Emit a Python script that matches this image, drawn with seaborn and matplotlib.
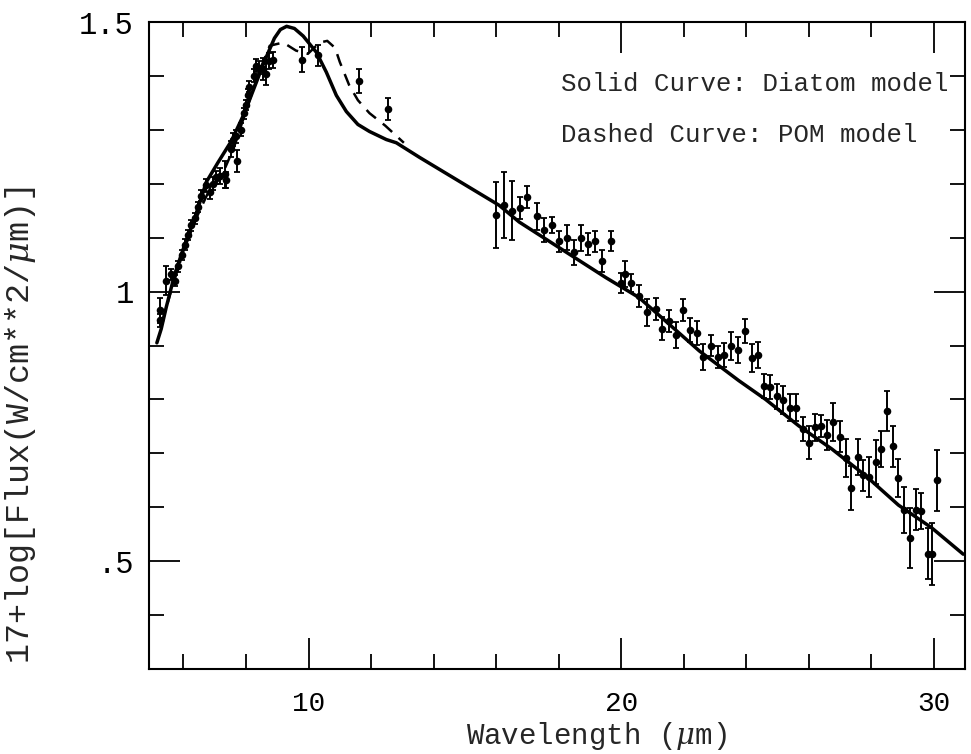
import numpy as np
import pandas as pd
import matplotlib
matplotlib.use("Agg")
import matplotlib.pyplot as plt
import seaborn as sns

# measured spectrum (wavelength in micron, 17+log flux, error)
wl = [5.24, 5.26, 5.45, 5.61, 5.72, 5.83, 5.94, 6.04, 6.15, 6.25, 6.36, 6.47, 6.57,
      6.73, 6.84, 6.94, 7.05, 7.16, 7.32, 7.37, 7.53, 7.58, 7.69, 7.72, 7.85, 7.95,
      8.01, 8.06, 8.11, 8.27, 8.33, 8.43, 8.54, 8.64, 8.75, 8.87, 9.80, 10.30, 11.61,
      12.54,
      16.0, 16.26, 16.5, 16.77, 17.0, 17.3, 17.54, 17.79, 18.02, 18.26, 18.48, 18.71,
      18.95, 19.17, 19.4, 19.69, 19.99, 20.12, 20.3, 20.57, 20.84, 21.1, 21.32, 21.53,
      21.76, 21.98, 22.19, 22.41, 22.61, 22.86, 23.1, 23.29, 23.5, 23.74, 23.96, 24.17,
      24.38, 24.56, 24.75, 24.99, 25.18, 25.39, 25.59, 25.81, 26.0, 26.19, 26.4, 26.58,
      26.79, 26.99, 27.2, 27.36, 27.57, 27.73, 27.94, 28.15, 28.32, 28.5, 28.69, 28.87,
      29.05, 29.24, 29.42, 29.59, 29.8, 29.95, 30.11]
flux = [0.965, 0.947, 1.02, 1.032, 1.02, 1.047, 1.068, 1.087, 1.105, 1.123, 1.136, 1.157, 1.178,
        1.197, 1.184, 1.20, 1.212, 1.215, 1.218, 1.207, 1.264, 1.282, 1.288, 1.242, 1.30, 1.331,
        1.346, 1.365, 1.38, 1.40, 1.419, 1.415, 1.413, 1.404, 1.428, 1.429, 1.43, 1.438, 1.39,
        1.339,
        1.142, 1.16, 1.15, 1.155, 1.175, 1.14, 1.114, 1.123, 1.093, 1.10, 1.073, 1.099,
        1.088, 1.093, 1.057, 1.094, 1.016, 1.033, 1.016, 0.992, 0.962, 0.968, 0.931, 0.946,
        0.919, 0.966, 0.929, 0.923, 0.879, 0.90, 0.879, 0.882, 0.90, 0.891, 0.927, 0.876,
        0.882, 0.825, 0.823, 0.806, 0.799, 0.785, 0.785, 0.745, 0.72, 0.748, 0.751, 0.734,
        0.758, 0.731, 0.691, 0.636, 0.693, 0.659, 0.656, 0.684, 0.708, 0.778, 0.713, 0.654,
        0.595, 0.543, 0.595, 0.593, 0.514, 0.513, 0.65]
err = [0.024, 0.012, 0.027, 0.01, 0.01, 0.01, 0.01, 0.01, 0.01, 0.01, 0.01, 0.01, 0.01,
       0.012, 0.012, 0.012, 0.012, 0.015, 0.025, 0.015, 0.015, 0.012, 0.012, 0.021, 0.012, 0.01,
       0.01, 0.01, 0.01, 0.012, 0.012, 0.012, 0.02, 0.02, 0.015, 0.015, 0.023, 0.02, 0.022,
       0.021,
       0.061, 0.061, 0.055, 0.02, 0.02, 0.025, 0.022, 0.015, 0.02, 0.023, 0.023, 0.024,
       0.02, 0.02, 0.02, 0.018, 0.018, 0.024, 0.017, 0.02, 0.025, 0.02, 0.021, 0.02,
       0.024, 0.02, 0.022, 0.022, 0.024, 0.02, 0.02, 0.022, 0.026, 0.024, 0.022, 0.026,
       0.024, 0.023, 0.022, 0.023, 0.026, 0.025, 0.025, 0.023, 0.03, 0.025, 0.021, 0.027,
       0.035, 0.029, 0.035, 0.041, 0.034, 0.029, 0.037, 0.041, 0.034, 0.037, 0.038, 0.035,
       0.043, 0.056, 0.038, 0.034, 0.047, 0.057, 0.056]

# model curves
diatom_x = [5.15, 5.29, 5.45, 5.72, 6.04, 6.36, 6.73, 7.10, 7.53, 7.95, 8.27, 8.59, 8.91,
            9.10, 9.30, 9.55, 9.83, 10.25, 10.57, 10.89, 11.21, 11.58, 11.95, 12.49, 12.81,
            13.55, 16.1, 16.74, 19.51, 20.57, 22.5, 23.76, 24.62, 25.68, 26.74, 27.81, 28.87,
            29.93, 30.94]
diatom_y = [0.905, 0.931, 0.971, 1.032, 1.087, 1.136, 1.203, 1.239, 1.279, 1.331, 1.379, 1.427, 1.470,
            1.486, 1.492, 1.488, 1.474, 1.444, 1.407, 1.364, 1.334, 1.310, 1.297, 1.282, 1.276,
            1.249, 1.160, 1.129, 1.026, 0.989, 0.89, 0.835, 0.800, 0.751, 0.708, 0.659, 0.604,
            0.562, 0.513]

pom_x = [5.3, 5.6, 6.0, 6.4, 6.8, 7.2, 7.6, 8.0, 8.4, 8.76, 9.19, 9.6, 9.98, 10.36, 10.6,
         10.85, 11.0, 11.3, 11.58, 11.95, 12.45, 13.05]
pom_y = [0.94, 1.0, 1.075, 1.135, 1.185, 1.212, 1.265, 1.335, 1.405, 1.456, 1.462, 1.447, 1.441,
         1.462, 1.465, 1.452, 1.426, 1.383, 1.355, 1.331, 1.308, 1.276]

sns.set_theme(style="ticks")
plt.rcParams['font.family'] = ['Liberation Mono', 'DejaVu Sans']
plt.rcParams['mathtext.fontset'] = 'dejavuserif'

fig = plt.figure(figsize=(9.71, 7.54), dpi=100)
ax = fig.add_axes([0.1535, 0.1127, 0.8404, 0.8581])

obs = pd.DataFrame({'wl': wl, 'flux': flux, 'err': err})
diatom = pd.DataFrame({'wl': diatom_x, 'flux': diatom_y})
pom = pd.DataFrame({'wl': pom_x, 'flux': pom_y})

sns.lineplot(data=diatom, x='wl', y='flux', ax=ax, color='black', lw=2.5, sort=False)
sns.lineplot(data=pom, x='wl', y='flux', ax=ax, color='black', lw=1.8, sort=False,
             linestyle=(0, (5, 3.5)))
ax.errorbar(obs['wl'], obs['flux'], yerr=obs['err'], fmt='none', ecolor='black',
            elinewidth=1.4, capsize=2.5, capthick=1.3)
sns.scatterplot(data=obs, x='wl', y='flux', ax=ax, color='black', s=30, edgecolor='black',
                linewidth=0, zorder=3)

ax.set_xlim(4.9, 31.0)
ax.set_ylim(0.3, 1.5)
ax.set_xticks([10, 20, 30])
ax.set_xticklabels(['10', '20', '30'])
ax.set_xticks(np.arange(6, 31, 2), minor=True)
ax.set_yticks([0.5, 1.0, 1.5])
ax.set_yticklabels(['.5', '1', '1.5'])
ax.set_yticks(np.arange(0.4, 1.5, 0.1), minor=True)
ax.tick_params(which='both', direction='in', top=True, right=True, colors='black', width=1.3)
ax.tick_params(which='major', length=22)
ax.tick_params(which='minor', length=11)
ax.tick_params(axis='x', which='major', pad=16, labelsize=20)
ax.tick_params(axis='y', which='major', pad=11, labelsize=22)
for s in ax.spines.values():
    s.set_linewidth(1.5)
    s.set_color('black')

ax.set_xlabel(r'Wavelength ($\mu$m)', fontsize=21, va='bottom')
ax.set_ylabel(r'17+log[Flux(W/cm**2/$\mu$m)]', fontsize=24)
ax.xaxis.set_label_coords(0.548, -0.1285)
ax.yaxis.set_label_coords(-0.136, 0.377)

ax.text(18.08, 1.385, 'Solid Curve: Diatom model', fontsize=18.5, va='center', ha='left')
ax.text(18.08, 1.29, 'Dashed Curve: POM model', fontsize=18.5, va='center', ha='left')

fig.savefig('out.png', dpi=100)
